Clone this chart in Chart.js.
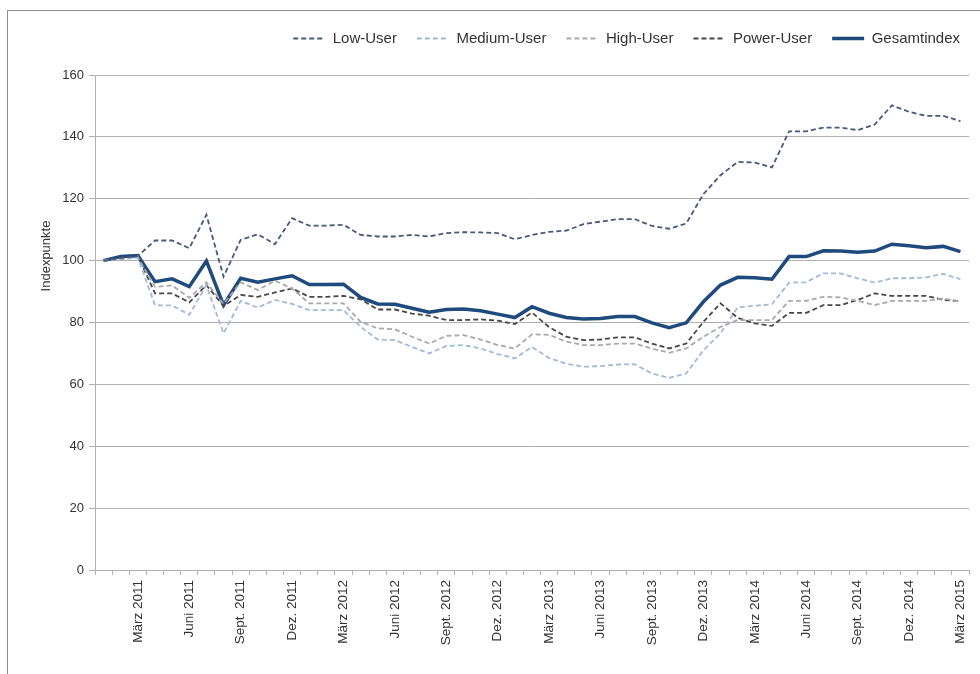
<!DOCTYPE html>
<html>
<head>
<meta charset="utf-8">
<script src="https://cdn.jsdelivr.net/npm/chart.js@4/dist/chart.umd.min.js"></script>
<style>
    body { margin: 0; background: #fff; }
    #wrap { position: relative; width: 980px; height: 674px; }
    #frame { position: absolute; left: 7px; top: 10px; right: 0; bottom: 0; border-left: 1px solid #8f8f8f; border-top: 1px solid #8f8f8f; }
    canvas { position: absolute; left: 0; top: 0; }
</style>
</head>
<body>
<div id="wrap">
    <div id="frame"></div>
    <canvas id="indexChart" width="980" height="674"></canvas>
</div>
<script>
"use strict"

const monthNames = ['Jan.', 'Feb.', 'März', 'Apr.', 'Mai', 'Juni', 'Juli', 'Aug.', 'Sept.', 'Okt.', 'Nov.', 'Dez.'];
const firstYear = 2011;
const monthCount = 51; // Jan. 2011 bis März 2015

let labels = [];
for (let i = 0; i < monthCount; i++) {
    labels.push(monthNames[i % 12] + ' ' + (firstYear + Math.floor(i / 12)));
}

const lowUser = [
    100, 100.8, 101.5, 106.5, 106.5, 104, 114.8, 94.8, 106.7, 108.5, 105.3, 113.7,
    111.3, 111.3, 111.6, 108.3, 107.8, 107.8, 108.3, 107.8, 108.9, 109.2, 109.1, 108.9,
    106.9, 108.3, 109.3, 109.7, 111.8, 112.6, 113.4, 113.4, 111.2, 110.3, 112, 121.5,
    127.6, 131.9, 131.7, 130.1, 141.8, 141.8, 143, 143, 142.2, 144, 150.2, 148.1,
    146.8, 146.8, 145.1
];
const mediumUser = [
    100, 100.5, 101, 85.6, 85.5, 82.5, 92, 76.5, 87, 84.8, 87.3, 86,
    84, 84, 84, 78.6, 74.5, 74.3, 72.1, 70, 72.4, 72.7, 71.6, 69.8,
    68.4, 72.1, 68.5, 66.7, 65.7, 65.9, 66.4, 66.5, 63.5, 62.1, 63.5, 71,
    76.5, 84.9, 85.4, 85.9, 92.9, 93, 95.9, 95.9, 94.3, 92.9, 94.3, 94.3,
    94.6, 95.7, 94
];
const highUser = [
    100, 100.5, 101, 91.5, 92, 88, 93, 86, 93, 90.5, 93.5, 91,
    86.2, 86.2, 86.2, 80.2, 78.1, 77.8, 75.4, 73.2, 75.7, 75.9, 74.5, 72.7,
    71.6, 76.2, 76, 73.8, 72.7, 72.7, 73.2, 73.2, 71.6, 70.2, 71.6, 75.4,
    78.6, 80.8, 80.8, 80.8, 87, 87, 88.3, 88.1, 87, 85.6, 87, 87,
    87, 87.8, 86.7
];
const powerUser = [
    100, 101, 101.5, 89.4, 89.4, 86.5, 92.1, 85.3, 88.9, 88.3, 89.7, 91,
    88.3, 88.3, 88.6, 87.5, 84.2, 84.2, 82.9, 82.2, 80.8, 80.8, 81, 80.6,
    79.5, 83.2, 78.5, 75.4, 74.3, 74.5, 75.2, 75.2, 73.2, 71.6, 73.2, 80.2,
    86.2, 81.5, 79.7, 78.9, 83.1, 83.1, 85.6, 85.6, 87.3, 89.4, 88.6, 88.6,
    88.6, 87.3, 86.9
];
const gesamtindex = [
    100, 101.3, 101.6, 93.2, 94.1, 91.6, 99.9, 85.6, 94.3, 93, 94.1, 95.1,
    92.3, 92.3, 92.4, 88.1, 86, 85.9, 84.6, 83.3, 84.2, 84.4, 83.8, 82.7,
    81.6, 85.1, 83, 81.6, 81.1, 81.3, 81.9, 81.9, 79.9, 78.3, 79.9, 86.7,
    92.1, 94.6, 94.5, 94, 101.3, 101.3, 103.2, 103.1, 102.7, 103.1, 105.3, 104.8,
    104.2, 104.6, 102.9
];

const axisGrey = '#b0b0b0';
const textColor = '#333333';
const fontFamily = '"Liberation Sans", Arial, sans-serif';

function dashed(label, data, color) {
    return {
        label: label,
        data: data,
        borderColor: color,
        backgroundColor: color,
        borderWidth: 1.8,
        borderDash: [5, 3],
        pointRadius: 0,
        tension: 0
    };
}

let plotData = {
    labels: labels,
    datasets: [
        dashed('Low-User', lowUser, '#47597a'),
        dashed('Medium-User', mediumUser, '#9fbbd9'),
        dashed('High-User', highUser, '#a9a9a9'),
        dashed('Power-User', powerUser, '#4b4745'),
        {
            label: 'Gesamtindex',
            data: gesamtindex,
            borderColor: '#1f4a7e',
            backgroundColor: '#1f4a7e',
            borderWidth: 3.5,
            pointRadius: 0,
            tension: 0
        }
    ]
};

// y axis title sits a bit above the middle, so it is drawn by hand;
// the legend is lifted up to the top of the frame
const extras = {
    id: 'extras',
    afterLayout(chart) {
        const lg = chart.legend;
        if (lg) {
            lg.top -= 19;
            lg.bottom -= 19;
        }
    },
    afterDraw(chart) {
        const ctx = chart.ctx;
        ctx.save();
        ctx.translate(46, 256);
        ctx.rotate(-Math.PI / 2);
        ctx.font = '13px ' + fontFamily;
        ctx.fillStyle = textColor;
        ctx.textAlign = 'center';
        ctx.textBaseline = 'middle';
        ctx.fillText('Indexpunkte', 0, 0);
        ctx.restore();
    }
};

let config = {
    type: 'line',
    data: plotData,
    plugins: [extras],
    options: {
        responsive: false,
        animation: false,
        devicePixelRatio: 1,
        layout: {
            padding: { top: 10, left: 0, right: 0, bottom: 0 }
        },
        plugins: {
            legend: {
                display: true,
                position: 'top',
                align: 'end',
                labels: {
                    usePointStyle: true,
                    pointStyle: 'line',
                    pointStyleWidth: 32,
                    padding: 20,
                    color: textColor,
                    font: { family: fontFamily, size: 15 },
                    generateLabels: function (chart) {
                        const items = Chart.defaults.plugins.legend.labels.generateLabels(chart);
                        items.forEach(function (item) {
                            const ds = chart.data.datasets[item.datasetIndex];
                            item.lineDash = ds.borderDash || [];
                            item.lineWidth = ds.borderWidth;
                            item.strokeStyle = ds.borderColor;
                        });
                        return items;
                    }
                }
            },
            tooltip: { enabled: false }
        },
        scales: {
            x: {
                offset: true,
                grid: {
                    offset: true,
                    drawOnChartArea: false,
                    drawTicks: true,
                    tickLength: 5,
                    color: axisGrey
                },
                border: { color: axisGrey },
                ticks: {
                    autoSkip: false,
                    minRotation: 90,
                    maxRotation: 90,
                    padding: 5,
                    color: textColor,
                    font: { family: fontFamily, size: 13.5 },
                    callback: function (value, index) {
                        return index % 3 === 2 ? this.getLabelForValue(value) : '';
                    }
                },
                afterFit: function (scale) {
                    scale.height = 104;
                    scale.paddingLeft = 0;
                    scale.paddingRight = 11;
                }
            },
            y: {
                min: 0,
                max: 160,
                grid: {
                    color: axisGrey,
                    tickLength: 6
                },
                border: { color: axisGrey },
                ticks: {
                    stepSize: 20,
                    padding: 5,
                    color: textColor,
                    font: { family: fontFamily, size: 13 }
                },
                afterFit: function (scale) {
                    scale.width = 95;
                    scale.paddingTop = 75;
                }
            }
        }
    }
};

const canvas = document.getElementById('indexChart').getContext('2d');
const chart1 = new Chart(canvas, config);
</script>
</body>
</html>
